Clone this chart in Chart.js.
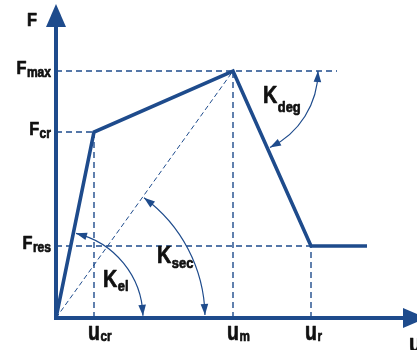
<!DOCTYPE html>
<html>
<head>
<meta charset="utf-8">
<script src="https://cdn.jsdelivr.net/npm/chart.js@4.4.1/dist/chart.umd.min.js"></script>
<style>
  html, body { margin: 0; padding: 0; background: #ffffff; }
  #wrap { width: 417px; height: 350px; }
</style>
</head>
<body>
<div id="wrap"><canvas id="c" width="417" height="350"></canvas></div>
<script>
// Force–displacement backbone (u, F)
const backboneU = [0, 3.8, 17.7, 25.5, 31.1];
const backboneF = [0, 18.6, 24.7, 7.2, 7.2];

// Characteristic displacements and their subscripts
const uTickValues = [3.8, 17.7, 25.5];
const uTickNames = ['cr', 'm', 'r'];

// Characteristic forces and their subscripts
const fTickValues = [24.7, 18.6, 7.2];
const fTickNames = ['max', 'cr', 'res'];

// How far the F_max guide runs to the right
const fMaxGuideEnd = 28.1;

const BLUE = '#1e4b8c';
const INK = '#111111';
const FONT = '"Liberation Sans", Arial, sans-serif';

const pts = (us, fs) => us.map((u, i) => ({ x: u, y: fs[i] }));

const guide = (a, b) => ({
  data: [a, b],
  showLine: true,
  borderColor: BLUE,
  borderWidth: 1.4,
  borderDash: [6, 4],
  pointRadius: 0,
  fill: false
});

const datasets = [
  {
    data: pts(backboneU, backboneF),
    showLine: true,
    borderColor: BLUE,
    borderWidth: 3.6,
    pointRadius: 0,
    fill: false,
    borderJoinStyle: 'miter'
  },
  // secant stiffness line
  {
    data: [{ x: 0, y: 0 }, { x: uTickValues[1], y: fTickValues[0] }],
    showLine: true,
    borderColor: BLUE,
    borderWidth: 1,
    borderDash: [5, 3],
    pointRadius: 0,
    fill: false
  },
  // horizontal guides
  guide({ x: 0, y: fTickValues[0] }, { x: fMaxGuideEnd, y: fTickValues[0] }),
  guide({ x: 0, y: fTickValues[1] }, { x: uTickValues[0], y: fTickValues[1] }),
  guide({ x: 0, y: fTickValues[2] }, { x: uTickValues[2], y: fTickValues[2] }),
  // vertical guides
  guide({ x: uTickValues[0], y: 0 }, { x: uTickValues[0], y: fTickValues[1] }),
  guide({ x: uTickValues[1], y: 0 }, { x: uTickValues[1], y: fTickValues[0] }),
  guide({ x: uTickValues[2], y: 0 }, { x: uTickValues[2], y: fTickValues[2] })
];

// Condensed heavy text: returns drawn width
function drawText(ctx, s, x, y, size, sx) {
  ctx.save();
  ctx.font = 'bold ' + size + 'px ' + FONT;
  const w = ctx.measureText(s).width * sx;
  ctx.translate(x, y);
  ctx.scale(sx, 1);
  ctx.fillStyle = INK;
  ctx.strokeStyle = INK;
  ctx.lineWidth = 0.7;
  ctx.lineJoin = 'round';
  ctx.fillText(s, 0, 0);
  ctx.strokeText(s, 0, 0);
  ctx.restore();
  return w;
}
function measure(ctx, s, size, sx) {
  ctx.save();
  ctx.font = 'bold ' + size + 'px ' + FONT;
  const w = ctx.measureText(s).width * sx;
  ctx.restore();
  return w;
}
// Symbol with subscript; x = left edge, y = baseline of the main letter
function symbol(ctx, main, sub, x, y, mSize, sSize, drop, sx) {
  const w = drawText(ctx, main, x, y, mSize, sx);
  drawText(ctx, sub, x + w + 0.5, y + drop, sSize, sx);
}
function symbolWidth(ctx, main, sub, mSize, sSize, sx) {
  return measure(ctx, main, mSize, sx) + 0.5 + measure(ctx, sub, sSize, sx);
}

function arrowHead(ctx, tx, ty, dx, dy, len, half) {
  const n = Math.hypot(dx, dy); dx /= n; dy /= n;
  const bx = tx - dx * len, by = ty - dy * len;
  ctx.beginPath();
  ctx.moveTo(tx, ty);
  ctx.lineTo(bx - dy * half, by + dx * half);
  ctx.lineTo(bx + dy * half, by - dx * half);
  ctx.closePath();
  ctx.fill();
}

// Circular dimension arc with arrowheads on both ends (angles in canvas sense)
function angleArc(ctx, cx, cy, r, a1, a2) {
  ctx.save();
  ctx.strokeStyle = BLUE;
  ctx.fillStyle = BLUE;
  ctx.lineWidth = 1.2;
  ctx.beginPath();
  ctx.arc(cx, cy, r, a1, a2);
  ctx.stroke();
  const d = 9 / r;
  const p = a => [cx + r * Math.cos(a), cy + r * Math.sin(a)];
  let [x1, y1] = p(a1), [x0, y0] = p(a1 + d);
  arrowHead(ctx, x1, y1, x1 - x0, y1 - y0, 11, 3.8);
  [x1, y1] = p(a2); [x0, y0] = p(a2 - d);
  arrowHead(ctx, x1, y1, x1 - x0, y1 - y0, 11, 3.8);
  ctx.restore();
}

const diagram = {
  id: 'diagram',
  afterDatasetsDraw(chart) {
    const ctx = chart.ctx;
    const xs = chart.scales.x, ys = chart.scales.y;
    const X = v => xs.getPixelForValue(v);
    const Y = v => ys.getPixelForValue(v);
    const ox = X(0), oy = Y(0);

    // axes with arrowheads
    ctx.save();
    ctx.strokeStyle = BLUE;
    ctx.fillStyle = BLUE;
    ctx.lineWidth = 4;
    ctx.lineCap = 'butt';
    ctx.beginPath();
    ctx.moveTo(ox, oy + 2);
    ctx.lineTo(ox, 26);
    ctx.moveTo(ox - 2, oy);
    ctx.lineTo(404, oy);
    ctx.stroke();
    ctx.beginPath();
    ctx.moveTo(ox, 4); ctx.lineTo(ox + 10, 27); ctx.lineTo(ox - 10, 27); ctx.closePath();
    ctx.fill();
    ctx.beginPath();
    ctx.moveTo(426, oy); ctx.lineTo(403, oy - 10); ctx.lineTo(403, oy + 10); ctx.closePath();
    ctx.fill();
    ctx.restore();

    // stiffness arcs
    const kneeA = Math.atan2(Y(backboneF[1]) - oy, X(backboneU[1]) - ox);
    angleArc(ctx, ox, oy, 87, kneeA + 0.03, -0.025);
    const secA = Math.atan2(Y(fTickValues[0]) - oy, X(uTickValues[1]) - ox);
    angleArc(ctx, ox, oy, 149, secA + 0.01, -0.02);
    const px = X(backboneU[2]), py = Y(backboneF[2]);
    const degA = Math.atan2(Y(backboneF[3]) - py, X(backboneU[3]) - px);
    angleArc(ctx, px, py, 85, 0.0, degA - 0.03);

    // symbols
    ctx.save();
    ctx.textBaseline = 'alphabetic';
    const sx = 0.86;
    drawText(ctx, 'F', 27, 26, 19, sx);
    fTickValues.forEach((v, i) => {
      const w = symbolWidth(ctx, 'F', fTickNames[i], 19, 14, sx);
      symbol(ctx, 'F', fTickNames[i], 51 - w, Y(v) + 3, 19, 14, 3, sx);
    });
    uTickValues.forEach((v, i) => {
      symbol(ctx, 'u', uTickNames[i], X(v) - 6, oy + 22, 25, 15, 1, 0.78);
    });
    drawText(ctx, 'u', 409, oy + 34, 26, 0.78);
    symbol(ctx, 'K', 'el', 103, 287, 23, 15, 4, sx);
    symbol(ctx, 'K', 'sec', 157, 263, 23, 15, 5, sx);
    symbol(ctx, 'K', 'deg', 263, 103, 23, 15, 9, sx);
    ctx.restore();
  }
};

new Chart(document.getElementById('c'), {
  type: 'scatter',
  data: { datasets },
  options: {
    responsive: false,
    animation: false,
    layout: { padding: { left: 56, right: 0, top: 0, bottom: 32 } },
    plugins: { legend: { display: false }, tooltip: { enabled: false } },
    scales: {
      x: { type: 'linear', min: 0, max: 36.1, display: false },
      y: { type: 'linear', min: 0, max: 31.8, display: false }
    }
  },
  plugins: [diagram]
});
</script>
</body>
</html>
